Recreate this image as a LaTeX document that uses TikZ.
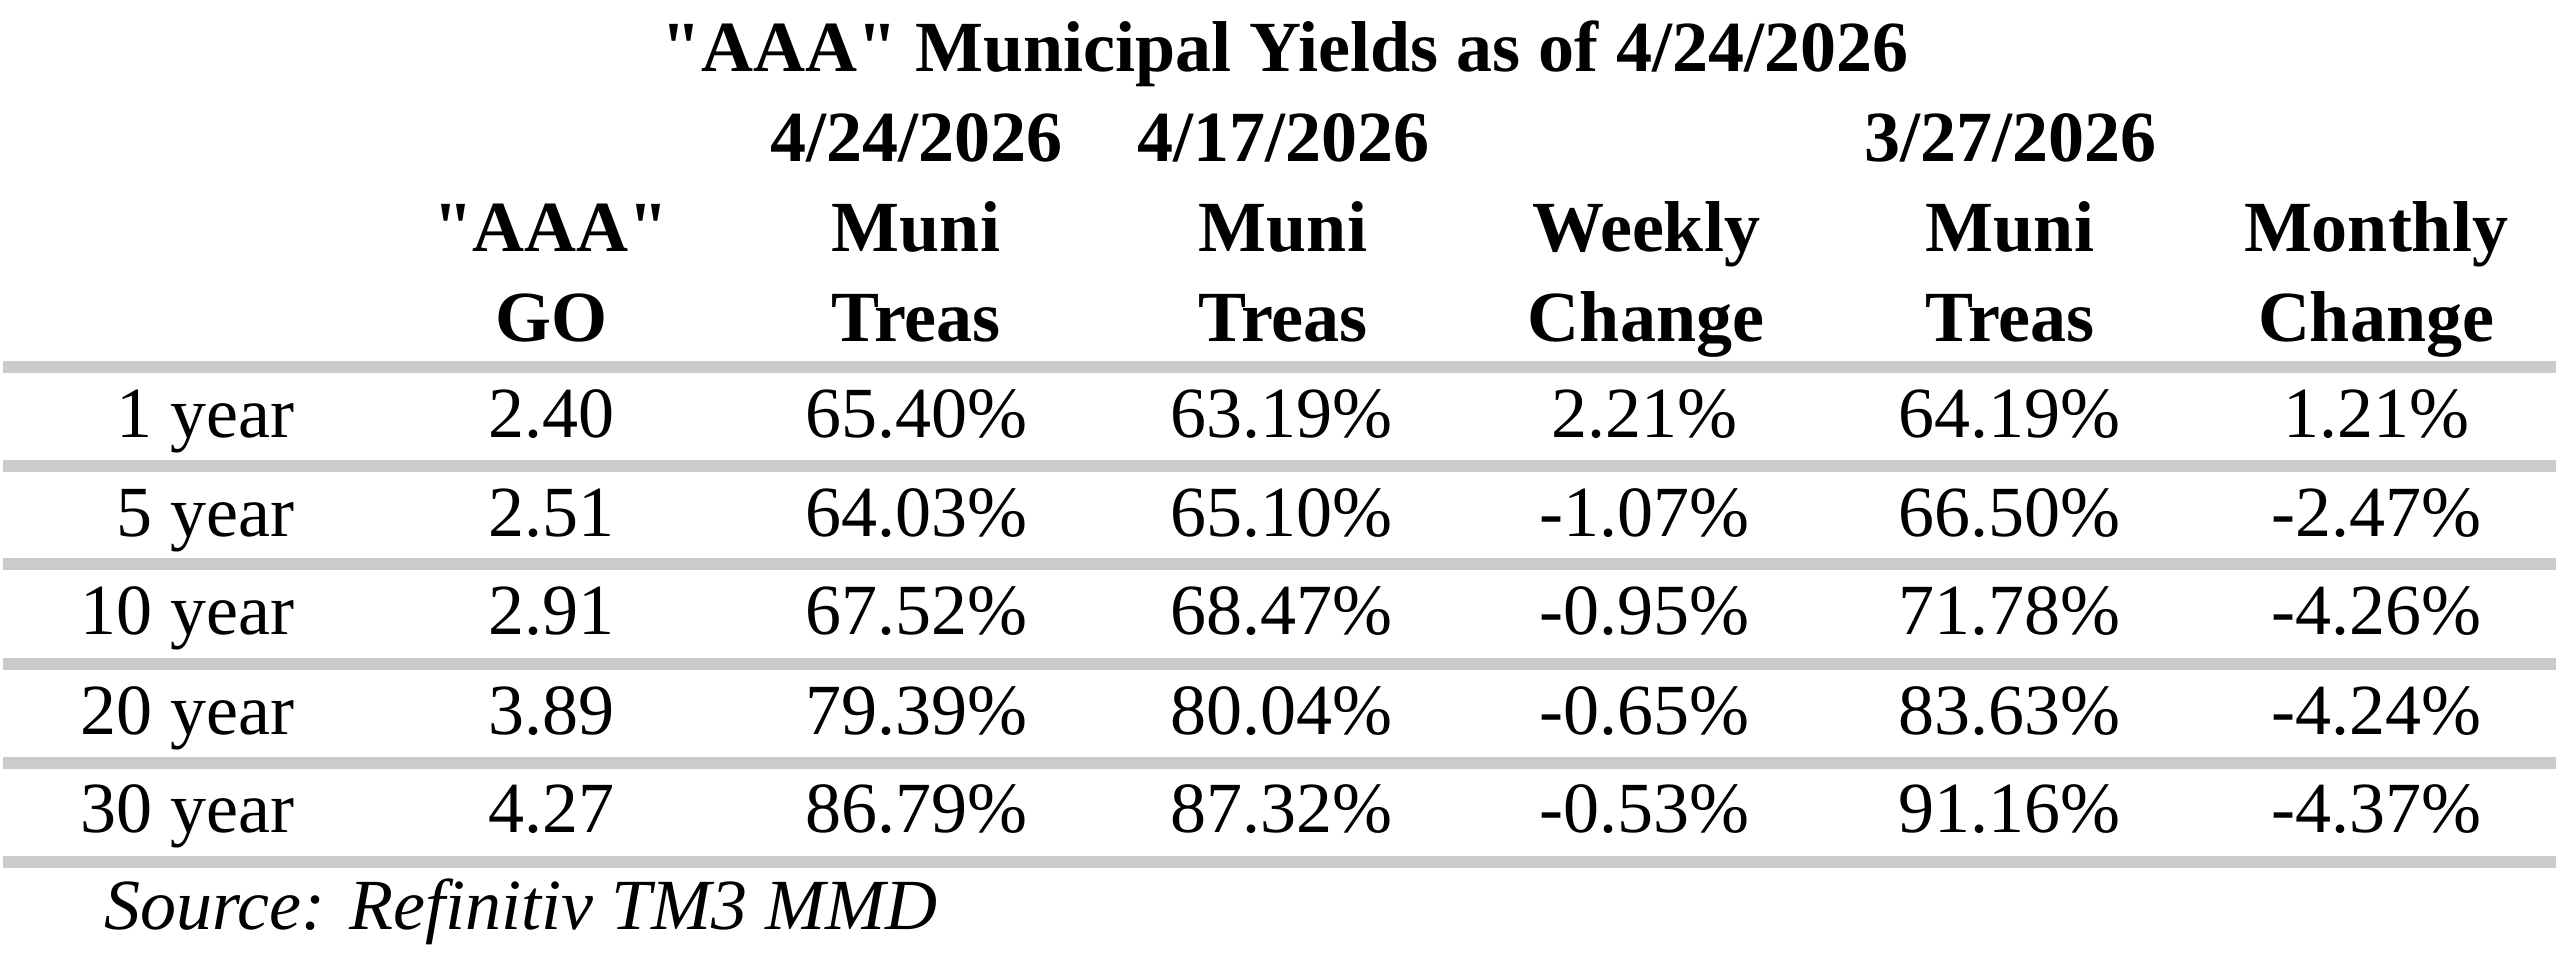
\documentclass[tikz,border=0pt]{standalone}
\usepackage{fontspec}
\setmainfont{Liberation Serif}[Ligatures=TeXOff]
\begin{document}
\begin{tikzpicture}[x=0.25pt,y=-0.25pt,
  txt/.style={inner sep=0pt,outer sep=0pt,anchor=base,font=\fontsize{18}{21.6}\selectfont},
  hdr/.style={txt,font=\fontsize{18}{21.6}\selectfont\bfseries},
  rowlabel/.style={txt,anchor=base east},
  band/.style={fill=bandgray,draw=none}]
\definecolor{bandgray}{HTML}{CBCBCB}
\useasboundingbox (0,0) rectangle (2560,960);
\fill[white] (0,0) rectangle (2560,960);
% bands
\foreach \t [count=\i] in {361,460,558,658,757,856}
  \fill[band] (3,\t) rectangle (2556,\t+12);
% title
\node[hdr] (title) at (1285,72) {"AAA" Municipal Yields as of 4/24/2026};
% header row 1
\node[hdr] (d1) at (916,162) {4/24/2026};
\node[hdr] (d2) at (1283,162) {4/17/2026};
\node[hdr] (d3) at (2010,162) {3/27/2026};
% header row 2
\node[hdr] (h2a) at (551,252) {"AAA"};
\node[hdr] (h2b) at (916,252) {Muni};
\node[hdr] (h2c) at (1283,252) {Muni};
\node[hdr] (h2d) at (1646,252) {Weekly};
\node[hdr] (h2e) at (2010,252) {Muni};
\node[hdr] (h2f) at (2376,252) {Monthly};
% header row 3
\node[hdr] (h3a) at (551,342) {GO};
\node[hdr] (h3b) at (916,342) {Treas};
\node[hdr] (h3c) at (1283,342) {Treas};
\node[hdr] (h3d) at (1646,342) {Change};
\node[hdr] (h3e) at (2010,342) {Treas};
\node[hdr] (h3f) at (2376,342) {Change};
% data
\foreach \y/\lab/\a/\b/\c/\d/\e/\f [count=\i] in {
  438/1 year/2.40/65.40\%/63.19\%/2.21\%/64.19\%/1.21\%,
  537/5 year/2.51/64.03\%/65.10\%/-1.07\%/66.50\%/-2.47\%,
  635/10 year/2.91/67.52\%/68.47\%/-0.95\%/71.78\%/-4.26\%,
  735/20 year/3.89/79.39\%/80.04\%/-0.65\%/83.63\%/-4.24\%,
  833/30 year/4.27/86.79\%/87.32\%/-0.53\%/91.16\%/-4.37\%} {
  \node[rowlabel] (r\i l) at (294,\y) {\lab};
  \node[txt] (r\i a) at (551,\y) {\a};
  \node[txt] (r\i b) at (916,\y) {\b};
  \node[txt] (r\i c) at (1281,\y) {\c};
  \node[txt] (r\i d) at (1644,\y) {\d};
  \node[txt] (r\i e) at (2009,\y) {\e};
  \node[txt] (r\i f) at (2376,\y) {\f};
}
\node[txt,anchor=base west,font=\fontsize{18}{21.6}\selectfont\itshape] (src) at (104,930) {Source: Refinitiv TM3 MMD};
\end{tikzpicture}
\end{document}
